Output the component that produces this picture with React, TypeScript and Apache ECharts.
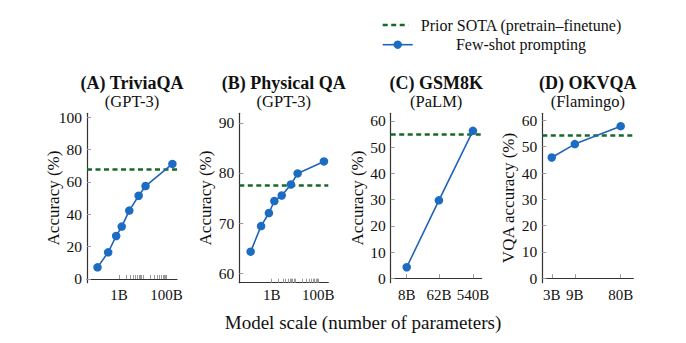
import React, { useEffect, useRef } from "react";
import * as echarts from "echarts";

const gpt3Sizes = [0.125, 0.35, 0.76, 1.3, 2.7, 6.7, 13, 175];
const triviaQA = [7.2, 16.5, 26.6, 32.4, 42.3, 51.5, 57.5, 71.2];
const physicalQA = [64.3, 69.4, 72.0, 74.4, 75.5, 77.7, 79.9, 82.3];
const palmSizes = [8, 62, 540];
const gsm8k = [4.2, 29.7, 56.2];
const flamingoSizes = [3, 9, 80];
const okvqa = [45.9, 51.0, 57.8];
const priorSota = [68.0, 77.5, 55.0, 54.4];

const titles = ["(A) TriviaQA", "(B) Physical QA", "(C) GSM8K", "(D) OKVQA"];
const subtitles = ["(GPT-3)", "(GPT-3)", "(PaLM)", "(Flamingo)"];
const yNames = ["Accuracy (%)", "Accuracy (%)", "Accuracy (%)", "VQA accuracy (%)"];
const yTicks = [
  [0, 20, 40, 60, 80, 100],
  [60, 70, 80, 90],
  [0, 10, 20, 30, 40, 50, 60],
  [0, 10, 20, 30, 40, 50, 60],
];
const xLabelValues = [[1, 100], [1, 100], palmSizes, flamingoSizes];
const logMinor = [1, 2, 3, 4, 5, 6, 7, 8, 9, 10, 20, 30, 40, 50, 60, 70, 80, 90, 100];
const xTickValues = [logMinor, logMinor, palmSizes, flamingoSizes];
const legendNames = ["Prior SOTA (pretrain\u2013finetune)", "Few-shot prompting"];
const xTitle = "Model scale (number of parameters)";

const FONT = "'Times New Roman', 'Liberation Serif', 'DejaVu Serif', serif";
const BLUE = "#1f64b8";
const BLUE_DOT = "#1b6cc2";
const GREEN = "#17692a";

export default function App() {
  const ref = useRef<HTMLDivElement>(null);
  useEffect(() => {
    if (!ref.current) return;
    const chart = echarts.init(ref.current, null, { renderer: "svg" });
    const lefts = [87, 239.3, 390.7, 542.3];
    const widths = [90, 89, 91, 91];
    const top = 113.3;
    const height = 169.4;
    const xRanges = [
      [0.0452, 273],
      [0.0407, 269],
      [2.89, 944],
      [1.91, 146],
    ];
    const yRanges = [
      [-2.3, 102.5],
      [58.1, 91.9],
      [-1.7, 62.9],
      [-1.7, 62.7],
    ];
    const seriesData = [
      gpt3Sizes.map((s, i) => [s, triviaQA[i]]),
      gpt3Sizes.map((s, i) => [s, physicalQA[i]]),
      palmSizes.map((s, i) => [s, gsm8k[i]]),
      flamingoSizes.map((s, i) => [s, okvqa[i]]),
    ];
    const idx = [0, 1, 2, 3];
    const option: any = {
      animation: false,
      textStyle: { fontFamily: FONT },
      title: idx.map((i) => ({
        text: titles[i],
        subtext: subtitles[i],
        left: lefts[i] + widths[i] / 2,
        top: 74.8,
        textAlign: "center",
        itemGap: 1,
        padding: 0,
        textStyle: { fontFamily: FONT, fontSize: 18, fontWeight: "bold", color: "#111", lineHeight: 17 },
        subtextStyle: { fontFamily: FONT, fontSize: 16.5, color: "#111", lineHeight: 15 },
      })),
      grid: idx.map((i) => ({ left: lefts[i], width: widths[i], top, height })),
      xAxis: idx.map((i) => ({
        type: "log",
        logBase: 10,
        gridIndex: i,
        min: xRanges[i][0],
        max: xRanges[i][1],
        axisLine: { show: true, lineStyle: { color: "#333", width: 1.2 } },
        axisTick: {
          show: true,
          inside: true,
          length: 4,
          customValues: xTickValues[i],
          lineStyle: { color: "#999", width: 1 },
        },
        splitLine: { show: false },
        minorTick: { show: false },
        axisLabel: {
          customValues: xLabelValues[i],
          formatter: (v: number) => `${Math.round(v)}B`,
          fontFamily: FONT,
          fontSize: 15,
          color: "#111",
          margin: 5,
        },
      })),
      yAxis: idx.map((i) => ({
        type: "value",
        gridIndex: i,
        min: yRanges[i][0],
        max: yRanges[i][1],
        name: yNames[i],
        nameLocation: "middle",
        nameGap: 25,
        nameMoveOverlap: false,
        nameTextStyle: { fontFamily: FONT, fontSize: 17, color: "#111" },
        axisLine: { show: true, lineStyle: { color: "#333", width: 1.2 } },
        axisTick: {
          show: true,
          inside: true,
          length: 4,
          customValues: yTicks[i],
          lineStyle: { color: "#999", width: 1 },
        },
        splitLine: { show: false },
        axisLabel: {
          customValues: yTicks[i],
          fontFamily: FONT,
          fontSize: 15.5,
          color: "#111",
          margin: 5,
        },
      })),
      series: idx.map((i) => ({
        type: "line",
        name: legendNames[1],
        xAxisIndex: i,
        yAxisIndex: i,
        data: seriesData[i],
        symbol: "circle",
        symbolSize: 8.5,
        itemStyle: { color: BLUE_DOT },
        lineStyle: { color: BLUE, width: 1.6 },
        z: 3,
        markLine: {
          silent: true,
          symbol: "none",
          label: { show: false },
          lineStyle: { color: GREEN, type: [5, 3.5], width: 2.6 },
          data: [{ yAxis: priorSota[i] }],
          z: 2,
        },
      })),
      graphic: [
        {
          type: "line",
          shape: { x1: 382.7, y1: 25, x2: 408.3, y2: 25 },
          style: { stroke: GREEN, lineWidth: 2.6, lineDash: [5, 3.5] },
        },
        {
          type: "text",
          x: 521,
          y: 25,
          style: {
            text: legendNames[0],
            fontFamily: FONT,
            fontSize: 16,
            fill: "#111",
            textAlign: "center",
            textVerticalAlign: "middle",
          },
        },
        {
          type: "line",
          shape: { x1: 382.7, y1: 44.7, x2: 412.7, y2: 44.7 },
          style: { stroke: BLUE, lineWidth: 1.6 },
        },
        {
          type: "circle",
          shape: { cx: 397.7, cy: 44.7, r: 4.2 },
          style: { fill: BLUE_DOT },
        },
        {
          type: "text",
          x: 521,
          y: 44.7,
          style: {
            text: legendNames[1],
            fontFamily: FONT,
            fontSize: 16,
            fill: "#111",
            textAlign: "center",
            textVerticalAlign: "middle",
          },
        },
        {
          type: "text",
          x: 363,
          y: 322,
          style: {
            text: xTitle,
            fontFamily: FONT,
            fontSize: 19,
            fill: "#111",
            textAlign: "center",
            textVerticalAlign: "middle",
          },
        },
      ],
    };
    chart.setOption(option);
    return () => chart.dispose();
  }, []);
  return (
    <div
      ref={ref}
      style={{ position: "fixed", left: 0, top: 0, width: 686, height: 343, background: "#fff" }}
    />
  );
}
